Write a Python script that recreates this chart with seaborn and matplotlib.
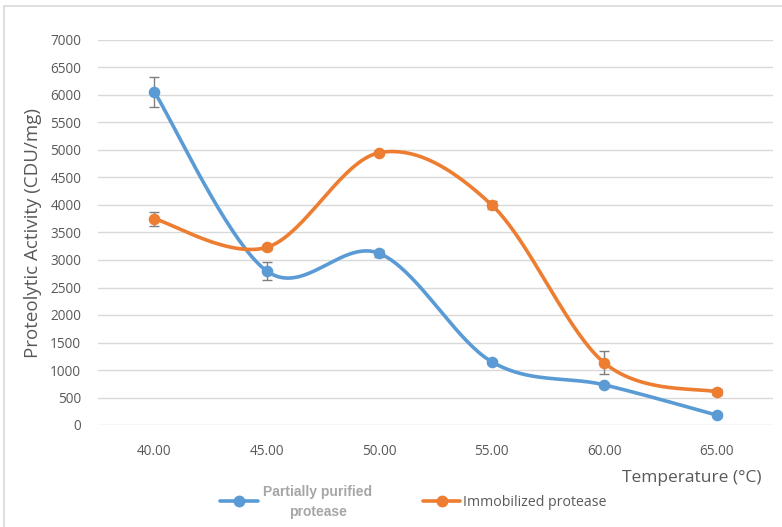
import numpy as np
import matplotlib
matplotlib.use('Agg')
import matplotlib.pyplot as plt
from matplotlib.lines import Line2D
import pandas as pd
import seaborn as sns

# data
temperature = [40, 45, 50, 55, 60, 65]
tick_labels = ['40.00', '45.00', '50.00', '55.00', '60.00', '65.00']
partial = [6060, 2800, 3120, 1150, 730, 180]
partial_err = [270, 160, 70, 40, 40, 30]
immobilized = [3750, 3230, 4950, 4000, 1130, 600]
immobilized_err = [130, 40, 40, 80, 210, 50]

blue = '#5B9BD5'
orange = '#ED7D31'
grey_txt = '#595959'

sns.set_theme(style='white')
plt.rcParams['font.family'] = ['Open Sans', 'DejaVu Sans']


def smooth(xs, ys, n=40):
    # excel-like smoothed line: catmull-rom bezier segments
    xs = np.asarray(xs, float)
    ys = np.asarray(ys, float)
    px = np.concatenate([[xs[0]], xs, [xs[-1]]])
    py = np.concatenate([[ys[0]], ys, [ys[-1]]])
    out_x, out_y = [], []
    t = np.linspace(0, 1, n)
    for i in range(1, len(px) - 2):
        p0 = np.array([px[i], py[i]])
        p3 = np.array([px[i + 1], py[i + 1]])
        c1 = p0 + (np.array([px[i + 1], py[i + 1]]) - np.array([px[i - 1], py[i - 1]])) / 6
        c2 = p3 - (np.array([px[i + 2], py[i + 2]]) - np.array([px[i], py[i]])) / 6
        b = ((1 - t) ** 3)[:, None] * p0 + (3 * (1 - t) ** 2 * t)[:, None] * c1 \
            + (3 * (1 - t) * t ** 2)[:, None] * c2 + (t ** 3)[:, None] * p3
        out_x.extend(b[:, 0])
        out_y.extend(b[:, 1])
    return out_x, out_y


fig = plt.figure(figsize=(7.82, 5.27), dpi=100)
ax = fig.add_axes([98 / 782, 1 - 425 / 527, 675 / 782, 385 / 527])

for vals, errs, col in [(partial, partial_err, blue), (immobilized, immobilized_err, orange)]:
    sx, sy = smooth(temperature, vals)
    sns.lineplot(x=sx, y=sy, ax=ax, color=col, lw=2.6, sort=False, zorder=3)
    ax.errorbar(temperature, vals, yerr=errs, fmt='none', ecolor='#7f7f7f',
                elinewidth=1, capsize=3.5, capthick=1, zorder=4)
    sns.scatterplot(x=temperature, y=vals, ax=ax, color=col, s=70,
                    edgecolor=col, linewidth=0, zorder=5)

ax.set_xlim(37.5, 67.5)
ax.set_ylim(0, 7000)
ax.set_xticks(temperature)
ax.set_xticklabels(tick_labels)
ax.set_yticks(np.arange(0, 7001, 500))
ax.grid(axis='y', color='#d9d9d9', lw=1)
ax.grid(axis='x', visible=False)
for s in ax.spines.values():
    s.set_visible(False)
ax.tick_params(axis='both', length=0, labelsize=9.8, labelcolor=grey_txt)
ax.tick_params(axis='x', pad=14)
ax.tick_params(axis='y', pad=12)
ax.set_ylabel('Proteolytic Activity (CDU/mg)', fontsize=13.5, color=grey_txt, labelpad=6)
ax.set_xlabel('')

fig.text(692 / 782, 1 - 478 / 527, 'Temperature (°C)', fontsize=12.5, color=grey_txt,
         ha='center', va='center')

# legend drawn by hand
for x0, x1, col in [(220, 258, blue), (423, 460, orange)]:
    yy = 1 - 501 / 527
    fig.add_artist(Line2D([x0 / 782, x1 / 782], [yy, yy], color=col, lw=2.6))
    fig.add_artist(Line2D([(x0 + x1) / 2 / 782], [yy], color=col, marker='o', ms=7.5, lw=0))
fig.text(318 / 782, 1 - 502 / 527, 'Partially purified\nprotease', fontsize=10,
         color='#a6a6a6', ha='center', va='center', fontweight='bold',
         family=['Liberation Sans', 'DejaVu Sans'], linespacing=1.55)
fig.text(463 / 782, 1 - 502 / 527, 'Immobilized protease', fontsize=10.2,
         color=grey_txt, ha='left', va='center')

# outer chart frame (cropped at right and bottom)
fig.add_artist(Line2D([4 / 782, 4 / 782], [0, 1 - 6 / 527], color='#d9d9d9', lw=1.2))
fig.add_artist(Line2D([4 / 782, 1], [1 - 6 / 527, 1 - 6 / 527], color='#d9d9d9', lw=1.2))

fig.savefig('out.png', dpi=100)
